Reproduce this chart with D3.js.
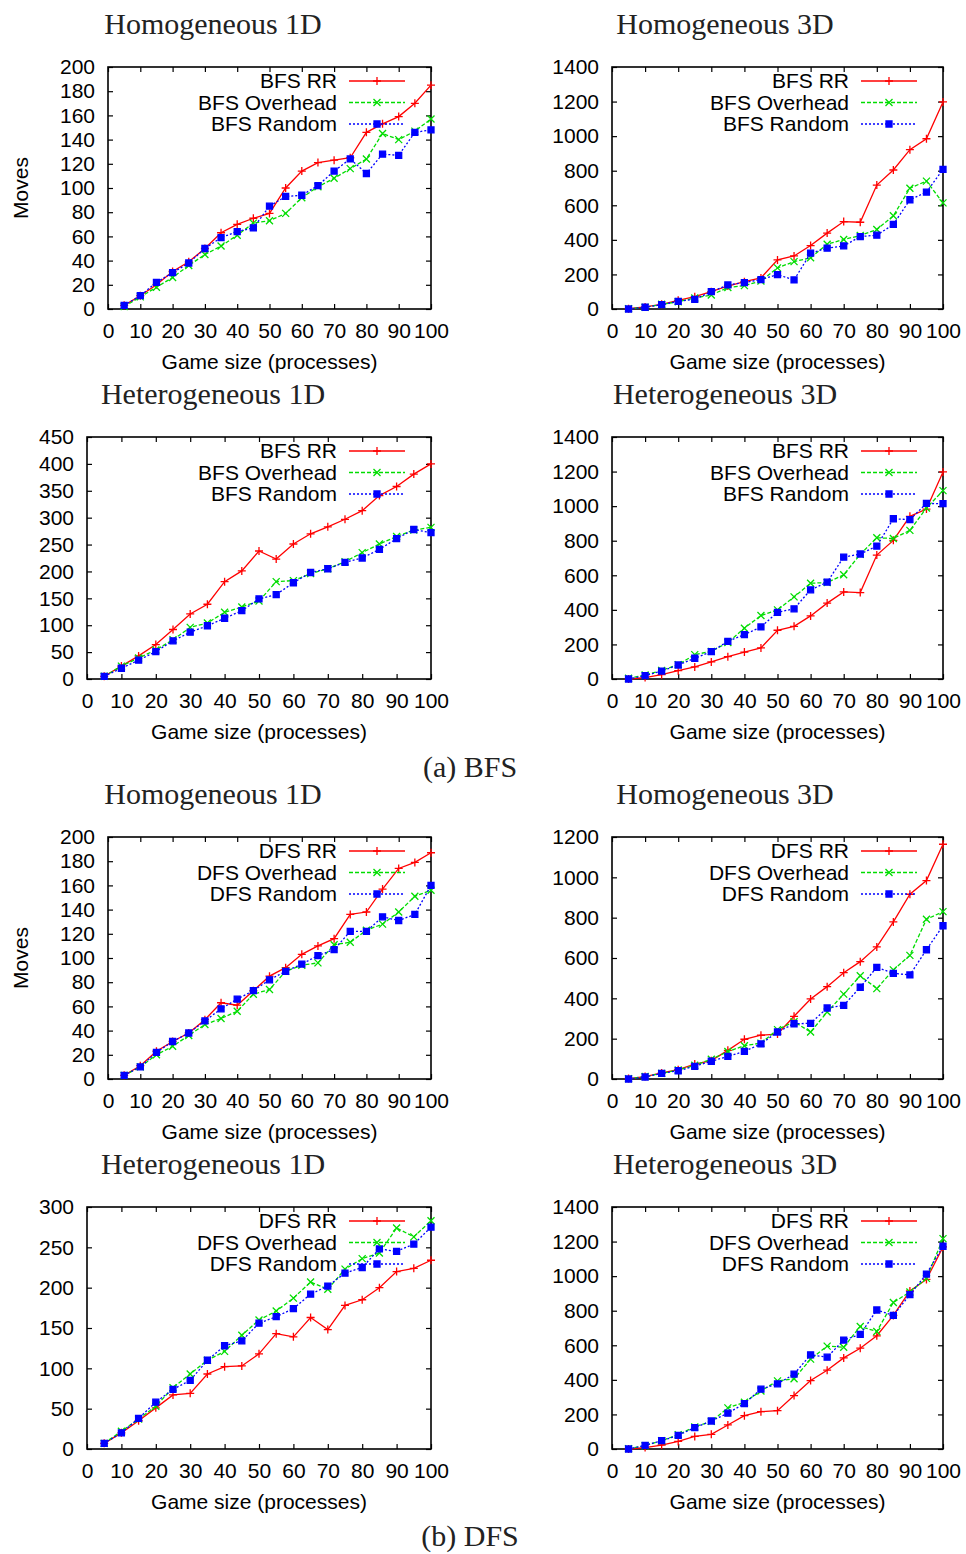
<!DOCTYPE html>
<html>
<head>
<meta charset="utf-8">
<script src="https://cdn.jsdelivr.net/npm/d3@7"></script>
<style>
  body { margin: 0; background: #fff; }
  svg { display: block; }
  .tick text { font-family: "Liberation Sans", Arial, sans-serif; font-size: 21px; fill: #000; }
  .lbl { font-family: "Liberation Sans", Arial, sans-serif; font-size: 21px; fill: #000; }
  .title { font-family: "Liberation Serif", "Times New Roman", serif; font-size: 30px; fill: #222; }
</style>
</head>
<body>
<script>
// game sizes (processes)
var gameSizes = [5, 10, 15, 20, 25, 30, 35, 40, 45, 50, 55, 60, 65, 70, 75, 80, 85, 90, 95, 100];
var xTicks = [0, 10, 20, 30, 40, 50, 60, 70, 80, 90, 100];

// BFS
var bfsHom1dRR       = [3, 11, 20, 31, 39, 50, 63, 70, 75, 79, 100, 114, 121, 123, 125, 146, 153, 159, 170, 185];
var bfsHom1dOverhead = [2, 10, 18, 26, 36, 45, 52, 61, 71, 73, 79, 92, 101, 108, 116, 124, 145, 140, 147, 157];
var bfsHom1dRandom   = [3, 11, 22, 30, 38, 50, 59, 64, 67, 85, 93, 94, 102, 114, 124, 112, 128, 127, 146, 148];

var bfsHom3dRR       = [2, 12, 27, 50, 71, 100, 133, 158, 180, 284, 307, 367, 439, 506, 502, 717, 804, 922, 985, 1198];
var bfsHom3dOverhead = [2, 10, 27, 42, 64, 81, 124, 135, 162, 238, 274, 296, 375, 402, 425, 460, 539, 699, 740, 614];
var bfsHom3dRandom   = [0, 10, 25, 44, 56, 100, 139, 153, 170, 199, 168, 323, 352, 365, 419, 427, 489, 632, 676, 808];

var bfsHet1dRR       = [5, 24, 43, 64, 92, 121, 139, 181, 201, 238, 223, 251, 270, 283, 297, 313, 341, 358, 381, 400];
var bfsHet1dOverhead = [5, 24, 39, 54, 73, 96, 104, 124, 134, 145, 181, 183, 196, 205, 218, 235, 251, 265, 277, 282];
var bfsHet1dRandom   = [5, 20, 35, 51, 71, 87, 99, 113, 127, 149, 157, 179, 198, 205, 217, 225, 241, 261, 278, 272];

var bfsHet3dRR       = [0, 8, 25, 48, 70, 99, 129, 156, 180, 282, 305, 365, 439, 504, 500, 717, 802, 941, 983, 1198];
var bfsHet3dOverhead = [4, 23, 50, 83, 141, 160, 211, 294, 367, 400, 475, 554, 558, 603, 721, 817, 813, 860, 989, 1090];
var bfsHet3dRandom   = [0, 19, 46, 81, 120, 158, 218, 257, 301, 386, 406, 516, 560, 705, 723, 769, 927, 922, 1016, 1014];

// DFS
var dfsHom1dRR       = [3, 11, 23, 31, 38, 49, 63, 61, 73, 85, 92, 103, 110, 116, 136, 138, 157, 174, 179, 187];
var dfsHom1dOverhead = [3, 10, 20, 27, 36, 45, 50, 56, 70, 74, 89, 94, 96, 111, 113, 123, 128, 138, 151, 156];
var dfsHom1dRandom   = [3, 10, 22, 31, 38, 48, 58, 66, 73, 82, 89, 95, 102, 107, 122, 122, 134, 131, 136, 160];

var dfsHom3dRR       = [2, 12, 30, 46, 74, 91, 142, 197, 217, 223, 311, 397, 458, 527, 582, 655, 779, 916, 984, 1164];
var dfsHom3dOverhead = [2, 12, 28, 45, 68, 98, 136, 165, 178, 245, 284, 233, 332, 421, 512, 448, 541, 613, 792, 830];
var dfsHom3dRandom   = [0, 10, 28, 41, 63, 88, 112, 137, 174, 233, 274, 276, 352, 365, 455, 554, 524, 516, 641, 760];

var dfsHet1dRR       = [7, 20, 35, 51, 67, 69, 93, 102, 103, 118, 143, 139, 163, 148, 178, 185, 200, 220, 224, 234];
var dfsHet1dOverhead = [7, 22, 37, 53, 76, 93, 110, 121, 141, 160, 171, 187, 207, 198, 223, 236, 243, 274, 263, 283];
var dfsHet1dRandom   = [7, 20, 38, 58, 74, 85, 110, 128, 134, 156, 164, 174, 192, 202, 218, 225, 248, 245, 254, 275];

var dfsHet3dRR       = [0, 8, 23, 44, 73, 85, 139, 193, 216, 222, 309, 396, 456, 527, 583, 655, 773, 914, 981, 1169];
var dfsHet3dOverhead = [2, 19, 48, 83, 128, 160, 238, 270, 336, 394, 406, 520, 595, 589, 709, 680, 848, 908, 987, 1217];
var dfsHet3dRandom   = [0, 21, 48, 79, 124, 162, 207, 263, 346, 377, 433, 545, 531, 630, 663, 804, 773, 893, 1012, 1173];

var yTicks200  = [0, 20, 40, 60, 80, 100, 120, 140, 160, 180, 200];
var yTicks300  = [0, 50, 100, 150, 200, 250, 300];
var yTicks450  = [0, 50, 100, 150, 200, 250, 300, 350, 400, 450];
var yTicks1200 = [0, 200, 400, 600, 800, 1000, 1200];
var yTicks1400 = [0, 200, 400, 600, 800, 1000, 1200, 1400];

var styles = [
    { color: '#ff0000', dash: null,  marker: 'plus' },
    { color: '#00dd00', dash: '4,2', marker: 'cross' },
    { color: '#0000ff', dash: '2,2', marker: 'box' }
];

var panels = [
    { title: 'Homogeneous 1D',   algo: 'BFS', series: [bfsHom1dRR, bfsHom1dOverhead, bfsHom1dRandom], yTicks: yTicks200,  left: 108, right: 431, top: 67,   ylabel: true },
    { title: 'Homogeneous 3D',   algo: 'BFS', series: [bfsHom3dRR, bfsHom3dOverhead, bfsHom3dRandom], yTicks: yTicks1400, left: 612, right: 943, top: 67 },
    { title: 'Heterogeneous 1D', algo: 'BFS', series: [bfsHet1dRR, bfsHet1dOverhead, bfsHet1dRandom], yTicks: yTicks450,  left: 87,  right: 431, top: 437 },
    { title: 'Heterogeneous 3D', algo: 'BFS', series: [bfsHet3dRR, bfsHet3dOverhead, bfsHet3dRandom], yTicks: yTicks1400, left: 612, right: 943, top: 437 },
    { title: 'Homogeneous 1D',   algo: 'DFS', series: [dfsHom1dRR, dfsHom1dOverhead, dfsHom1dRandom], yTicks: yTicks200,  left: 108, right: 431, top: 837,  ylabel: true },
    { title: 'Homogeneous 3D',   algo: 'DFS', series: [dfsHom3dRR, dfsHom3dOverhead, dfsHom3dRandom], yTicks: yTicks1200, left: 612, right: 943, top: 837 },
    { title: 'Heterogeneous 1D', algo: 'DFS', series: [dfsHet1dRR, dfsHet1dOverhead, dfsHet1dRandom], yTicks: yTicks300,  left: 87,  right: 431, top: 1207 },
    { title: 'Heterogeneous 3D', algo: 'DFS', series: [dfsHet3dRR, dfsHet3dOverhead, dfsHet3dRandom], yTicks: yTicks1400, left: 612, right: 943, top: 1207 }
];
var seriesNames = ['RR', 'Overhead', 'Random'];
var plotHeight = 242;

window.document.addEventListener('DOMContentLoaded', init, false);

function init() {
    var svg = d3.select('body').append('svg')
        .attr('width', 966)
        .attr('height', 1554);

    panels.forEach((p) => drawPanel(svg, p));

    svg.append('text').attr('class', 'title')
        .attr('x', 470).attr('y', 777)
        .attr('text-anchor', 'middle')
        .text('(a) BFS');
    svg.append('text').attr('class', 'title')
        .attr('x', 470).attr('y', 1546)
        .attr('text-anchor', 'middle')
        .text('(b) DFS');
}

function markerPath(type) {
    if (type === 'plus') return 'M-4,0H4M0,-4V4';
    if (type === 'cross') return 'M-3.5,-3.5L3.5,3.5M-3.5,3.5L3.5,-3.5';
    return 'M-3,-3H3V3H-3Z';
}

function drawPanel(svg, p) {
    var bottom = p.top + plotHeight;
    var x = d3.scaleLinear().domain([0, 100]).range([p.left, p.right]);
    var y = d3.scaleLinear().domain([0, p.yTicks[p.yTicks.length - 1]]).range([bottom, p.top]);
    var g = svg.append('g');

    // title
    g.append('text').attr('class', 'title')
        .attr('x', p.left < 500 ? 213 : 725)
        .attr('y', p.top - 33)
        .attr('text-anchor', 'middle')
        .text(p.title);

    // axes with inward ticks on all four sides
    var xa = g.append('g').attr('transform', `translate(0,${bottom})`)
        .call(d3.axisBottom(x).tickValues(xTicks).tickSizeInner(-5).tickSizeOuter(0).tickPadding(14));
    var ya = g.append('g').attr('transform', `translate(${p.left},0)`)
        .call(d3.axisLeft(y).tickValues(p.yTicks).tickFormat(d3.format('d')).tickSizeInner(-5).tickSizeOuter(0).tickPadding(13));
    var xt = g.append('g').attr('transform', `translate(0,${p.top})`)
        .call(d3.axisTop(x).tickValues(xTicks).tickSizeInner(-5).tickSizeOuter(0).tickFormat(''));
    var yr = g.append('g').attr('transform', `translate(${p.right},0)`)
        .call(d3.axisRight(y).tickValues(p.yTicks).tickSizeInner(-5).tickSizeOuter(0).tickFormat(''));
    [xa, ya, xt, yr].forEach((a) => {
        a.select('.domain').remove();
        a.selectAll('.tick line').attr('stroke', '#000').attr('stroke-width', 1.2);
    });
    xa.selectAll('.tick text').attr('dy', '0.71em');

    g.append('rect')
        .attr('x', p.left).attr('y', p.top)
        .attr('width', p.right - p.left).attr('height', plotHeight)
        .attr('fill', 'none').attr('stroke', '#000').attr('stroke-width', 1.6);

    // axis labels
    g.append('text').attr('class', 'lbl')
        .attr('x', (p.left + p.right) / 2)
        .attr('y', bottom + 60)
        .attr('text-anchor', 'middle')
        .text('Game size (processes)');
    if (p.ylabel) {
        g.append('text').attr('class', 'lbl')
            .attr('transform', `translate(28,${p.top + plotHeight / 2}) rotate(-90)`)
            .attr('text-anchor', 'middle')
            .text('Moves');
    }

    // series
    var line = d3.line()
        .x((d, i) => x(gameSizes[i]))
        .y((d) => y(d));

    p.series.forEach((vals, si) => {
        var st = styles[si];
        g.append('path')
            .datum(vals)
            .attr('d', line)
            .attr('fill', 'none')
            .attr('stroke', st.color)
            .attr('stroke-width', 1.3)
            .attr('stroke-dasharray', st.dash);
        g.selectAll(`.m${si}`)
            .data(vals)
            .enter()
                .append('path')
                .attr('class', `m${si}`)
                .attr('transform', (d, i) => `translate(${x(gameSizes[i])},${y(d)})`)
                .attr('d', markerPath(st.marker))
                .attr('fill', st.marker === 'box' ? st.color : 'none')
                .attr('stroke', st.color)
                .attr('stroke-width', 1.3);
    });

    // legend
    var sampleEnd = p.right - 26;
    var sampleStart = sampleEnd - 56;
    seriesNames.forEach((name, si) => {
        var st = styles[si];
        var ly = p.top + 14 + si * 21.5;
        g.append('text').attr('class', 'lbl')
            .attr('x', sampleStart - 12)
            .attr('y', ly)
            .attr('dy', '0.35em')
            .attr('text-anchor', 'end')
            .text(`${p.algo} ${name}`);
        g.append('line')
            .attr('x1', sampleStart).attr('x2', sampleEnd)
            .attr('y1', ly).attr('y2', ly)
            .attr('stroke', st.color)
            .attr('stroke-width', 1.3)
            .attr('stroke-dasharray', st.dash);
        g.append('path')
            .attr('transform', `translate(${(sampleStart + sampleEnd) / 2},${ly})`)
            .attr('d', markerPath(st.marker))
            .attr('fill', st.marker === 'box' ? st.color : 'none')
            .attr('stroke', st.color)
            .attr('stroke-width', 1.3);
    });
}
</script>
</body>
</html>
